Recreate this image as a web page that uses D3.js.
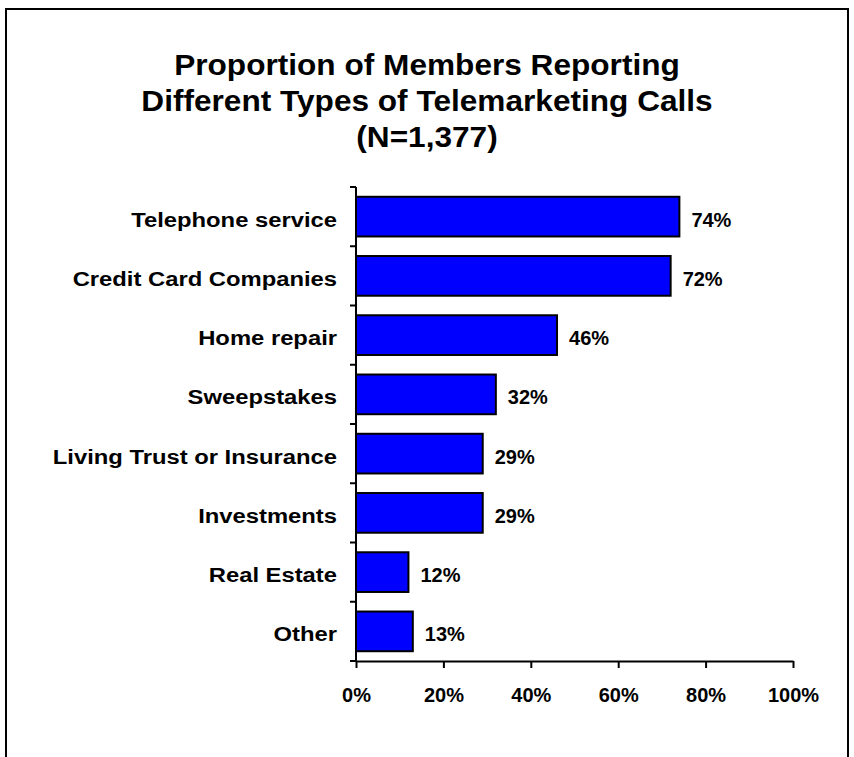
<!DOCTYPE html>
<html>
<head>
<meta charset="utf-8">
<script src="https://cdn.jsdelivr.net/npm/d3@7"></script>
<style>
  html, body { margin: 0; padding: 0; background: #fff; }
  svg { display: block; }
  text { font-family: "Liberation Sans", Arial, Helvetica, sans-serif; font-weight: bold; fill: #000; }
</style>
</head>
<body>
<svg id="chart" width="854" height="757"></svg>
<script>
// Telemarketing call types reported by members
const titleLines = [
  "Proportion of Members Reporting",
  "Different Types of Telemarketing Calls",
  "(N=1,377)"
];
const categories = [
  "Telephone service",
  "Credit Card Companies",
  "Home repair",
  "Sweepstakes",
  "Living Trust or Insurance",
  "Investments",
  "Real Estate",
  "Other"
];
const shares = [0.74, 0.72, 0.46, 0.32, 0.29, 0.29, 0.12, 0.13];
const xTicks = [0, 0.2, 0.4, 0.6, 0.8, 1.0];

const svg = d3.select("#chart");
const plot = { left: 356, right: 793, top: 187, bottom: 661 };

// outer frame (runs off the bottom edge)
svg.append("rect")
  .attr("x", 6).attr("y", 9)
  .attr("width", 842).attr("height", 800)
  .attr("fill", "#fff").attr("stroke", "#000").attr("stroke-width", 2);

// title
const title = svg.append("g").attr("transform", "translate(427,0) scale(1.09,1)");
title.selectAll("text").data(titleLines).join("text")
  .attr("x", 0)
  .attr("y", (d, i) => [75, 111, 147][i])
  .attr("text-anchor", "middle")
  .style("font-size", "29px")
  .text(d => d);

const data = categories.map((c, i) => ({ c, v: shares[i] }));

const x = d3.scaleLinear().domain([0, 1]).range([plot.left, plot.right]);
const y = d3.scaleBand().domain(categories).range([plot.top, plot.bottom]).paddingInner(0.33).paddingOuter(0.165);
const step = y.step();
const pct = d3.format(".0%");

// bars
svg.append("g").selectAll("rect").data(data).join("rect")
  .attr("x", x(0))
  .attr("y", d => y(d.c))
  .attr("width", d => x(d.v) - x(0))
  .attr("height", y.bandwidth())
  .attr("fill", "#0000ff")
  .attr("stroke", "#000")
  .attr("stroke-width", 2);

// value labels
svg.append("g").selectAll("text").data(data).join("text")
  .attr("x", d => x(d.v) + 12)
  .attr("y", d => y(d.c) + y.bandwidth() / 2 + 10)
  .style("font-size", "20px")
  .text(d => pct(d.v));

// category axis: line with ticks at band boundaries
const yAxis = svg.append("g");
yAxis.append("line")
  .attr("x1", plot.left).attr("x2", plot.left)
  .attr("y1", plot.top).attr("y2", plot.bottom)
  .attr("stroke", "#000").attr("stroke-width", 2);
yAxis.selectAll("line.tick").data(d3.range(categories.length + 1)).join("line")
  .attr("class", "tick")
  .attr("x1", plot.left - 6).attr("x2", plot.left)
  .attr("y1", i => plot.top + i * step).attr("y2", i => plot.top + i * step)
  .attr("stroke", "#000").attr("stroke-width", 2);
const catLabels = svg.append("g").attr("transform", `translate(${plot.left - 19},0) scale(1.19,1)`);
catLabels.selectAll("text").data(categories).join("text")
  .attr("x", 0)
  .attr("y", d => y(d) + y.bandwidth() / 2 + 10)
  .attr("text-anchor", "end")
  .style("font-size", "20px")
  .text(d => d);

// value axis
const xAxis = svg.append("g")
  .attr("transform", `translate(0,${plot.bottom})`)
  .call(d3.axisBottom(x).tickValues(xTicks).tickFormat(pct).tickSize(7).tickSizeOuter(0));
xAxis.select(".domain").attr("stroke", "#000").attr("stroke-width", 2);
xAxis.selectAll(".tick line").attr("stroke", "#000").attr("stroke-width", 2);
xAxis.selectAll(".tick text")
  .attr("y", 41).attr("dy", 0)
  .style("font-size", "20px")
  .style("font-family", "'Liberation Sans', Arial, sans-serif")
  .style("font-weight", "bold")
  .attr("fill", "#000");
</script>
</body>
</html>
